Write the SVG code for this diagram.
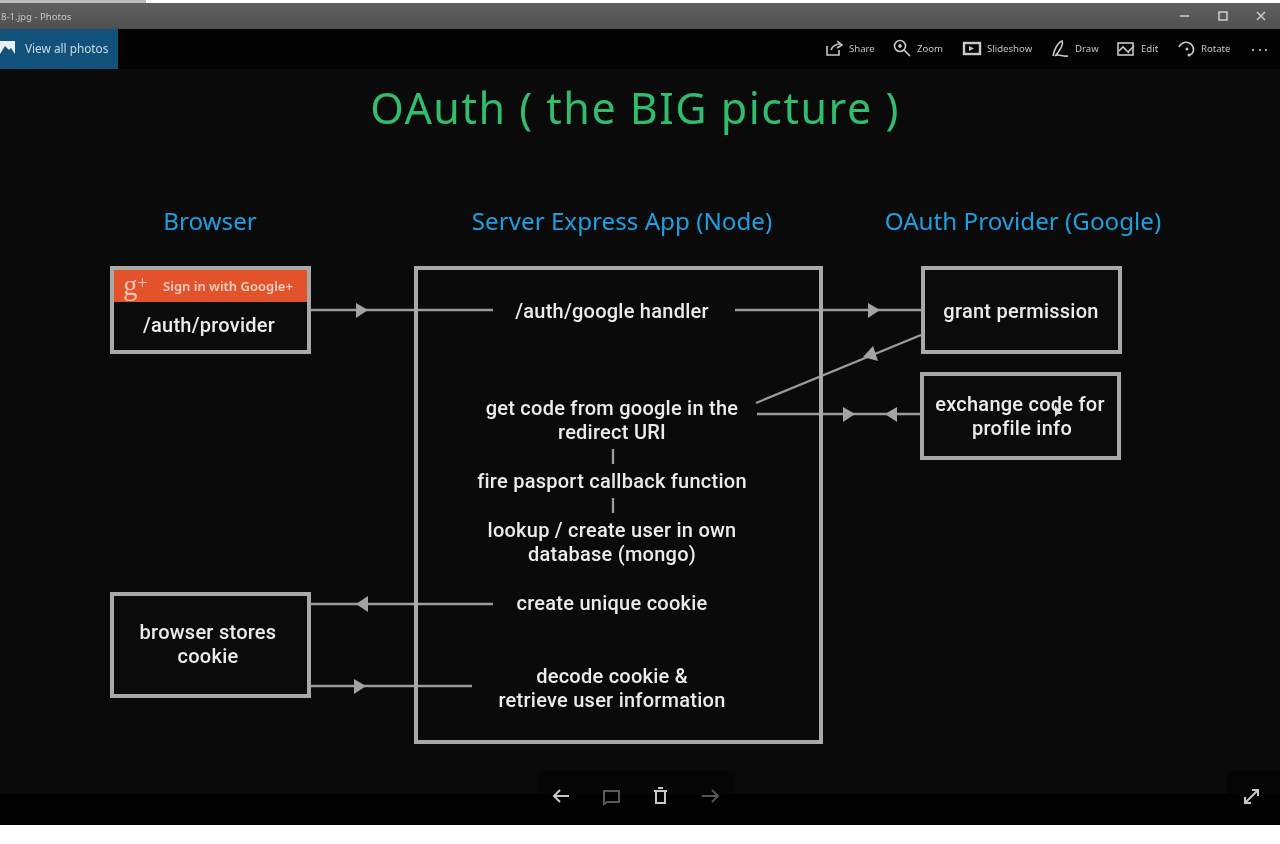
<svg xmlns="http://www.w3.org/2000/svg" width="1280" height="844" viewBox="0 0 1280 844">
<defs>
<filter id="soft" x="0" y="0" width="100%" height="100%" color-interpolation-filters="sRGB"><feGaussianBlur stdDeviation="0.45"/></filter>
<linearGradient id="bar" x1="0" y1="0" x2="0" y2="1"><stop offset="0" stop-color="#606060"/><stop offset="1" stop-color="#505050"/></linearGradient>
</defs>
<style>
text{font-family:"Noto Sans","Open Sans","DejaVu Sans",sans-serif}
.n{fill:#0b0b0b;stroke:#a9a9a6;stroke-width:4}
.t{fill:#ececea;font-family:Roboto,"Noto Sans",sans-serif;font-size:20px;text-anchor:middle;letter-spacing:.25px;font-weight:500}
.h{fill:#1e9fe2;font-size:24.2px;text-anchor:middle}
.c{fill:none;stroke:#9c9c99;stroke-width:2.3}
.ui{fill:#c4c4c4;font-size:9.6px}
.ic{fill:none;stroke:#c8c8c8;stroke-width:1.6}
</style>
<g filter="url(#soft)">
<rect width="1280" height="844" fill="#fff"/>
<rect y="3" width="1280" height="26" fill="url(#bar)"/>
<rect width="146" height="3" fill="#bdbdbd"/>
<rect y="29" width="1280" height="40" fill="#030303"/>
<rect y="69" width="1280" height="725" fill="#0a0a0b"/>
<rect y="794" width="1280" height="31" fill="#010101"/>
<rect x="537" y="771" width="198" height="23" fill="#060606"/>
<rect x="1227" y="771" width="53" height="23" fill="#060606"/>
<rect y="29" width="118" height="40" fill="#12517a"/>
<text x="1" y="20" class="ui">8-1.jpg - Photos</text>
<g id="view-all"><path d="M0 41H15V57H0Z" fill="#e8eef2"/><path d="M0 54L5 46L9 50L11 48L15 54V57H0Z" fill="#12517a"/>
<text x="25" y="53" style="font-size:11.8px;fill:#c9dbe8">View all photos</text></g>
<g id="window-controls" class="ic"><path d="M1180 16H1189"/><rect x="1219" y="12" width="8" height="8"/><path d="M1257 12L1265 20M1265 12L1257 20"/></g>
<g id="toolbar">
<path class="ic" d="M827 46V55H839V50M831 50C833 45 836 44 840 44M837 41L842 45L837 48"/>
<text x="849" y="52" class="ui">Share</text>
<circle class="ic" cx="900" cy="46" r="5.5"/><path class="ic" d="M904 50L910 56M898 46H902M900 44V48"/>
<text x="917" y="52" class="ui">Zoom</text>
<rect x="964" y="43" width="16" height="11" class="ic" style="stroke-width:2.4"/><path d="M969 46L974 48.5L969 51Z" fill="#c4c4c4"/>
<text x="987" y="52" class="ui">Slideshow</text>
<path class="ic" d="M1053 56C1054 50 1058 42 1062 41C1064 44 1059 52 1055 56C1058 53 1062 57 1068 56"/>
<text x="1075" y="52" class="ui">Draw</text>
<rect x="1118" y="43" width="15" height="12" class="ic"/><path class="ic" d="M1119 51L1123 47L1129 53M1128 52L1134 46"/>
<text x="1141" y="52" class="ui">Edit</text>
<path class="ic" d="M1179 47C1181 42 1187 41 1191 44C1195 48 1194 53 1190 55"/><circle cx="1187" cy="49" r="1.5" fill="#c4c4c4"/><circle cx="1189" cy="55" r="1.5" fill="#c4c4c4"/>
<text x="1201" y="52" class="ui">Rotate</text>
<circle cx="1253" cy="50" r="1.1" fill="#d0d0d0"/><circle cx="1260" cy="50" r="1.1" fill="#d0d0d0"/><circle cx="1266" cy="50" r="1.1" fill="#d0d0d0"/>
</g>
<text id="title" x="635" y="124" text-anchor="middle" style="font-size:43px;fill:#30bd6d;letter-spacing:1.5px">OAuth ( the BIG picture )</text>
<text x="210" y="230" class="h">Browser</text>
<text x="622" y="230" class="h">Server Express App (Node)</text>
<text x="1023" y="230" class="h">OAuth Provider (Google)</text>
<g id="connectors">
<path class="c" d="M311 310H493"/>
<path class="c" d="M735 310H921"/>
<path class="c" d="M921 335L756 403"/>
<path class="c" d="M757 414H921"/>
<path class="c" d="M311 604H493"/>
<path class="c" d="M311 686H472"/>
<path class="c" d="M613 449V464M613 498V513"/>
<g fill="#a3a3a0"><path d="M356 303L368 310L356 318Z"/><path d="M868 303L880 310L868 318Z"/><path d="M863 357L873 346L878 361Z"/><path d="M843 407L855 414L843 422Z"/><path d="M897 407L885 414L897 422Z"/><path d="M368 596L356 604L368 612Z"/><path d="M354 679L366 686L354 694Z"/></g>
</g>
<g id="browser-login"><rect class="n" x="112" y="268" width="197" height="84"/><rect x="114" y="270" width="193" height="32" fill="#e2532c"/>
<text x="123" y="295" style="font-family:'Liberation Serif',serif;font-size:29px;fill:#f3c5b5">g</text><text x="137" y="289" style="font-family:'Liberation Serif',serif;font-size:19px;fill:#f3c5b5">+</text>
<text x="228" y="291" text-anchor="middle" style="font-size:13px;font-weight:600;fill:#f6cfc0">Sign in with Google+</text>
<text x="209" y="332" class="t">/auth/provider</text></g>
<g id="server"><rect x="416" y="268" width="405" height="474" fill="none" stroke="#a9a9a6" stroke-width="4"/>
<text x="612" y="318" class="t">/auth/google handler</text>
<text x="612" y="415" class="t">get code from google in the</text><text x="612" y="439" class="t">redirect URI</text>
<text x="612" y="488" class="t">fire pasport callback function</text>
<text x="612" y="537" class="t">lookup / create user in own</text><text x="612" y="561" class="t">database (mongo)</text>
<text x="612" y="610" class="t">create unique cookie</text>
<text x="612" y="683" class="t">decode cookie &amp;</text><text x="612" y="707" class="t">retrieve user information</text></g>
<g id="grant"><rect class="n" x="923" y="268" width="197" height="84"/><text x="1021" y="318" class="t">grant permission</text></g>
<g id="exchange"><rect class="n" x="922" y="374" width="197" height="84"/><text x="1020" y="411" class="t">exchange code for</text><text x="1022" y="435" class="t">profile info</text></g>
<path id="cursor" d="M1055 405V417L1058 414L1062 414Z" fill="#ddd"/>
<g id="browser-cookie"><rect class="n" x="112" y="594" width="197" height="102"/><text x="208" y="639" class="t">browser stores</text><text x="208" y="663" class="t">cookie</text></g>
<g id="bottom-bar" class="ic"><path style="stroke-width:2" d="M554 796H569M560 790L554 796L560 802"/><path style="stroke:#5a5a5a;stroke-width:2" d="M604 791H619V802H607L604 804Z"/><path d="M654 791H667M656 791V803H665V791M658 788H663" style="stroke-width:2"/><path style="stroke:#555;stroke-width:2" d="M702 796H718M712 790L718 796L712 802"/><path style="stroke-width:2" d="M1245 803L1258 790M1252 790H1258V796M1245 797V803H1251"/></g>
</g>
</svg>
